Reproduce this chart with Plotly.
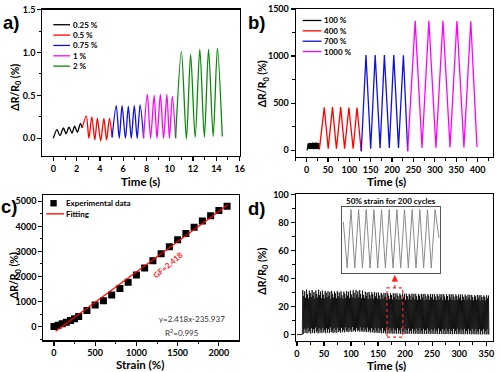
import plotly.graph_objects as go

W, H = 500, 372
def px(x): return x / W
def py(y): return 1 - y / H

FONT = "Lato"

# ---------------- Panel a data ----------------
a_names = ["0.25 %", "0.5 %", "0.75 %", "1 %", "2 %"]
a_colors = ["#000000", "#ff0000", "#1010e0", "#ff00ff", "#0a8a0a"]
a_t_025 = [0.0, 0.31, 0.56, 0.87, 1.09, 1.34, 1.60, 1.82, 2.07, 2.32, 2.48]
a_v_025 = [0.0, 0.10, 0.03, 0.12, 0.05, 0.13, 0.06, 0.14, 0.07, 0.17, 0.12]
a_t_05 = [2.48, 2.83, 3.05, 3.30, 3.56, 3.78, 4.06, 4.34, 4.57, 4.82, 5.05]
a_v_05 = [0.12, 0.26, 0.0, 0.25, -0.02, 0.23, -0.03, 0.23, -0.02, 0.23, 0.01]
a_t_075 = [5.05, 5.40, 5.66, 5.90, 6.19, 6.44, 6.69, 6.95, 7.20, 7.45, 7.75]
a_v_075 = [0.01, 0.38, 0.0, 0.38, 0.0, 0.37, 0.0, 0.38, 0.0, 0.39, 0.0]
a_t_1 = [7.75, 8.07, 8.35, 8.66, 8.90, 9.19, 9.47, 9.75, 9.97, 10.22, 10.50]
a_v_1 = [0.0, 0.51, 0.0, 0.50, 0.0, 0.51, 0.0, 0.51, 0.0, 0.49, 0.0]
a_t_2 = [10.50, 11.0, 11.43, 11.79, 12.18, 12.58, 12.97, 13.33, 13.73, 14.09, 14.51]
a_v_2 = [0.0, 1.01, -0.01, 0.98, 0.01, 1.04, 0.01, 1.04, 0.02, 1.05, 0.02]
a_series = [(a_t_025, a_v_025), (a_t_05, a_v_05), (a_t_075, a_v_075), (a_t_1, a_v_1), (a_t_2, a_v_2)]

# ---------------- Panel b data ----------------
b_names = ["100 %", "400 %", "700 %", "1000 %"]
b_colors = ["#000000", "#ff0000", "#1010e0", "#ff00ff"]
b_t_100 = [1.5, 4, 5.5, 7.5, 9, 11, 12.5, 14.5, 16, 18, 19.5, 21.5, 23, 25, 26.5, 28.5, 30]
b_v_100 = [0, 75, 15, 80, 12, 78, 15, 82, 12, 80, 15, 82, 12, 80, 15, 78, 10]
b_t_400 = [30, 41.5, 50.7, 60.7, 69.9, 79.9, 89, 99, 109, 118, 128]
b_v_400 = [10, 455, 17, 458, 17, 458, 17, 455, 17, 455, -10]
b_t_700 = [128, 139, 150, 160.5, 172, 182, 193.5, 204, 215, 226.5, 236.5]
b_v_700 = [-10, 1012, 17, 1012, 22, 1010, 25, 1010, 25, 1008, -10]
b_t_1000 = [236.5, 254, 270, 286, 302.5, 319, 335.5, 351.6, 368, 384, 398.5]
b_v_1000 = [-10, 1374, 25, 1374, 28, 1374, 30, 1372, 30, 1370, 35]
b_series = [(b_t_100, b_v_100), (b_t_400, b_v_400), (b_t_700, b_v_700), (b_t_1000, b_v_1000)]

# ---------------- Panel c data ----------------
c_strain = [0, 50, 100, 150, 200, 250, 300, 400, 500, 600, 700, 800, 900, 1000,
            1100, 1200, 1300, 1400, 1500, 1600, 1700, 1800, 1900, 2000, 2100]
c_resp = [10, 50, 110, 170, 240, 310, 400, 640, 866, 1030, 1260, 1522, 1772, 2060,
          2336, 2625, 2913, 3190, 3465, 3714, 3963, 4213, 4423, 4633, 4800]
c_fit_x = [20, 2110]
c_fit_y = [-188, 4866]

# ---------------- Panel d data ----------------
d_base_t = [0, 10]
d_base_v = [0, 0]
d_peaks = [
    31.8, 27.5, 30.9, 26.2, 32.0, 28.8, 25.9, 31.4, 29.6, 26.8, 31.9, 27.9, 30.4, 25.7, 31.6, 29.1, 26.5, 32.1, 28.2, 30.7,
    26.0, 31.5, 28.6, 25.8, 31.2, 29.9, 26.7, 31.0, 27.7, 30.5, 25.6, 31.3, 28.9, 26.4, 30.8, 29.4, 25.9, 31.1, 27.4, 30.2,
    26.3, 30.9, 28.1, 25.5, 30.7, 29.2, 26.1, 31.2, 27.8, 30.6, 25.9, 31.5, 28.7, 26.6, 31.7, 29.8, 26.2, 31.9, 28.4, 30.9,
    26.5, 31.8, 29.0, 25.9, 31.4, 28.3, 26.0, 30.6, 27.6, 30.1, 25.4, 30.5, 28.2, 25.8, 30.3, 29.0, 25.6, 30.4, 27.3, 29.9,
    25.7, 30.1, 27.9, 25.2, 29.8, 28.6, 25.5, 29.9, 27.0, 29.6, 25.1, 29.7, 27.8, 25.4, 29.5, 28.3, 25.0, 29.6, 26.9, 29.4,
    25.3, 29.5, 27.6, 24.9, 29.3, 28.1, 25.2, 29.4, 26.8, 29.2, 24.8, 29.3, 27.5, 25.1, 29.2, 28.0, 24.9, 29.3, 26.7, 29.1,
    25.0, 29.2, 27.4, 24.8, 29.1, 27.9, 25.1, 29.2, 26.6, 29.0, 24.7, 29.1, 27.3, 25.0, 29.0, 27.8, 24.8, 29.1, 26.5, 28.9,
    24.9, 29.0, 27.2, 24.7, 28.9, 27.7, 25.0, 29.0, 26.4, 28.8, 24.6, 29.0, 27.2, 24.9, 28.9, 27.6, 24.7, 28.9, 26.4, 28.8,
    24.8, 28.9, 27.1, 24.6, 28.7, 27.5, 24.9, 28.8, 26.3, 28.6, 24.5, 28.7, 27.0, 24.8, 28.6, 27.4, 24.6, 28.5, 26.2, 28.4,
    24.6, 28.4, 26.9, 24.4, 28.2, 27.2, 24.7, 28.3, 26.1, 28.1, 24.3, 28.2, 26.8, 24.5, 28.0, 27.0, 24.4, 28.1, 26.0, 27.9,
]
d_troughs = [
    0.3, 4.2, 1.1, 3.5, 0.8, 5.0, 1.4, 2.9, 0.7, 4.6, 1.2, 3.8, 0.9, 5.1, 1.5, 2.7, 0.8, 4.4, 1.3, 3.6,
    1.0, 4.9, 1.6, 3.1, 0.9, 4.5, 1.4, 3.9, 1.1, 5.2, 1.7, 2.8, 1.0, 4.7, 1.5, 3.6, 1.2, 5.0, 1.8, 3.0,
    1.3, 4.8, 1.9, 3.4, 1.5, 5.3, 2.1, 3.0, 1.7, 4.9, 2.2, 3.7, 1.9, 5.4, 2.3, 3.2, 2.0, 4.8, 2.4, 3.5,
    2.1, 5.2, 2.2, 3.3, 1.9, 4.9, 2.0, 3.6, 1.7, 5.0, 1.8, 3.1, 1.5, 4.7, 1.6, 3.4, 1.3, 4.9, 1.4, 2.9,
    1.1, 4.6, 1.2, 3.2, 0.9, 4.8, 1.0, 2.8, 0.8, 4.5, 0.9, 3.3, 0.7, 4.7, 0.8, 2.9, 0.6, 4.4, 0.7, 3.1,
    0.6, 4.5, 0.7, 3.0, 0.5, 4.6, 0.6, 2.7, 0.5, 4.3, 0.6, 3.2, 0.5, 4.5, 0.6, 2.8, 0.5, 4.2, 0.6, 3.0,
    0.5, 4.4, 0.6, 2.9, 0.5, 4.5, 0.5, 2.6, 0.4, 4.2, 0.5, 3.1, 0.4, 4.4, 0.5, 2.7, 0.4, 4.1, 0.5, 2.9,
    0.4, 4.3, 0.5, 2.8, 0.4, 4.4, 0.4, 2.5, 0.4, 4.1, 0.4, 3.0, 0.3, 4.3, 0.4, 2.6, 0.3, 4.0, 0.4, 2.8,
    0.3, 4.2, 0.4, 2.7, 0.3, 4.3, 0.3, 2.4, 0.3, 4.0, 0.3, 2.9, 0.2, 4.2, 0.3, 2.5, 0.2, 3.9, 0.3, 2.7,
    0.2, 4.1, 0.3, 2.6, 0.2, 4.2, 0.2, 2.3, 0.2, 3.9, 0.2, 2.8, 0.1, 4.1, 0.2, 2.4, 0.1, 3.8, 0.2, 0.0,
]
d_start_t = 10
d_half_period = 0.8625  # seconds between a trough and the following peak
d_cycle_vals = [0.0]
for p, tr in zip(d_peaks, d_troughs):
    d_cycle_vals.append(p)
    d_cycle_vals.append(tr)

# inset (zoom of 50% strain cycles)
inset_vals = [24, 1, 30, 1, 30, 1, 30, 1, 30, 1, 30, 1, 30, 1, 30, 1, 30, 1, 30, 1, 30, 1, 30, 1, 30, 16]
inset_title = "50% strain for 200 cycles"

# ---------------- figure ----------------
fig = go.Figure()

for (t, v), name, col in zip(a_series, a_names, a_colors):
    fig.add_trace(go.Scatter(x=t, y=v, mode="lines", name=name, xaxis="x", yaxis="y",
                             line=dict(color=col, width=1.3, shape="spline", smoothing=0.8),
                             showlegend=False))
for (t, v), name, col in zip(b_series, b_names, b_colors):
    fig.add_trace(go.Scatter(x=t, y=v, mode="lines", name=name, xaxis="x2", yaxis="y2",
                             line=dict(color=col, width=1.3), showlegend=False))
fig.add_trace(go.Scatter(x=c_strain, y=c_resp, mode="markers", name="Experimental data",
                         xaxis="x3", yaxis="y3", showlegend=False,
                         marker=dict(symbol="square", size=7, color="black")))
fig.add_trace(go.Scatter(x=c_fit_x, y=c_fit_y, mode="lines", name="Fitting",
                         xaxis="x3", yaxis="y3", showlegend=False,
                         line=dict(color="#ff0000", width=1.2)))
fig.add_trace(go.Scatter(x=d_base_t, y=d_base_v, mode="lines", xaxis="x4", yaxis="y4",
                         showlegend=False, line=dict(color="#222222", width=1)))
fig.add_trace(go.Scatter(x0=d_start_t, dx=d_half_period, y=d_cycle_vals, mode="lines",
                         xaxis="x4", yaxis="y4", showlegend=False,
                         line=dict(color="#000000", width=0.75)))
fig.add_trace(go.Scatter(x0=0, dx=0.5, y=inset_vals, mode="lines", xaxis="x5", yaxis="y5",
                         showlegend=False, line=dict(color="#8a8a8a", width=1)))

tickfont = dict(family=FONT, size=9, color="black", weight="bold")

def axis(domain, rng, dtick, minor_dtick, anchor, tickformat=None):
    d = dict(domain=domain, range=rng, dtick=dtick, tick0=0, anchor=anchor,
             showline=True, linecolor="black", linewidth=1.2, mirror=True,
             ticks="outside", ticklen=4, tickwidth=1.2, tickcolor="black",
             minor=dict(dtick=minor_dtick, ticks="outside", ticklen=2.5, tickwidth=1, tickcolor="black"),
             showgrid=False, zeroline=False, tickfont=tickfont, fixedrange=True)
    if tickformat:
        d["tickformat"] = tickformat
    return d

fig.update_layout(
    width=W, height=H, margin=dict(l=0, r=0, t=0, b=0),
    paper_bgcolor="white", plot_bgcolor="white", showlegend=False, hovermode=False,
    xaxis=axis([px(41), px(241)], [-0.94, 16], 2, 1, "y"),
    yaxis=axis([py(153.3), py(4.7)], [-0.21, 1.5], 0.5, 0.25, "x", ".1f"),
    xaxis2=axis([px(298), px(498)], [-25, 436], 50, 25, "y2"),
    yaxis2=axis([py(154), py(4)], [-70, 1500], 500, 250, "x2"),
    xaxis3=axis([px(42), px(240)], [-128, 2240], 500, 250, "y3"),
    yaxis3=axis([py(340), py(193)], [-551, 5236], 1000, 500, "x3"),
    xaxis4=axis([px(298), px(498)], [-2, 362.5], 50, 25, "y4"),
    yaxis4=axis([py(340.7), py(191.7)], [-4.7, 100.5], 20, 10, "x4"),
    xaxis5=dict(domain=[px(345), px(444.3)], range=[-0.15, 12.65], anchor="y5",
                showline=True, linecolor="#555555", linewidth=1, mirror=True,
                showticklabels=False, ticks="", showgrid=False, zeroline=False),
    yaxis5=dict(domain=[py(271.7), py(204.3)], range=[-1.5, 31.5], anchor="x5",
                showline=True, linecolor="#555555", linewidth=1, mirror=True,
                showticklabels=False, ticks="", showgrid=False, zeroline=False),
)

ann = []
shapes = []
def text(x, y, s, size=12, bold=True, color="black", xanchor="center", angle=0, family=FONT):
    ann.append(dict(x=px(x), y=py(y), xref="paper", yref="paper", text=s, showarrow=False,
                    xanchor=xanchor, yanchor="middle", textangle=angle,
                    font=dict(family=family, size=size, color=color,
                              weight="bold" if bold else "normal")))

# panel labels
for lx, ly, lab in [(9, 18, "a)"), (258, 18, "b)"), (7.5, 204, "c)"), (258, 206, "d)")]:
    text(lx, ly, lab, size=18.5, family="Liberation Sans")

# axis titles
ytitle = "ΔR/R<sub>0</sub> (%)"
text(140, 179, "Time (s)", size=11.5)
text(390, 179, "Time (s)", size=11.5)
text(140, 364, "Strain (%)", size=11.5)
text(390, 365, "Time (s)", size=11.5)
text(14, 83, ytitle, size=10.5, angle=-90)
text(265, 80, ytitle, size=10.5, angle=-90)
text(14, 274, ytitle, size=10.5, angle=-90)
text(265, 270, ytitle, size=10.5, angle=-90)

# legend a
for i, (name, col) in enumerate(zip(a_names, a_colors)):
    yy = 20 + 10.5 * i
    shapes.append(dict(type="line", xref="paper", yref="paper", x0=px(52), x1=px(69),
                       y0=py(yy), y1=py(yy), line=dict(color=col, width=1.3)))
    text(70, yy, name, size=8, xanchor="left")
# legend b
for i, (name, col) in enumerate(zip(b_names, b_colors)):
    yy = 15.7 + 10.5 * i
    shapes.append(dict(type="line", xref="paper", yref="paper", x0=px(305), x1=px(324),
                       y0=py(yy), y1=py(yy), line=dict(color=col, width=1.3)))
    text(325, yy, name, size=8, xanchor="left")
# legend c
shapes.append(dict(type="rect", xref="paper", yref="paper", x0=px(49), x1=px(55.5),
                   y0=py(204.2), y1=py(197.7), fillcolor="black", line=dict(width=0)))
text(63, 201, "Experimental data", size=8, xanchor="left")
shapes.append(dict(type="line", xref="paper", yref="paper", x0=px(45), x1=px(63),
                   y0=py(211.7), y1=py(211.7), line=dict(color="#ff0000", width=1.3)))
text(63, 211.7, "Fitting", size=8, xanchor="left")

# panel c annotations
text(168.3, 263.3, "GF=2.418", size=8, color="#ff2020", angle=-40)
text(192.7, 318, "y=2.418x-235.937", size=8, bold=False, color="#333333")
text(182.7, 331.7, "R<sup>2</sup>=0.995", size=8, bold=False, color="#333333")

# panel d annotations
text(395, 198.5, inset_title, size=8)
shapes.append(dict(type="rect", xref="x4", yref="y4", x0=166.5, x1=195.6, y0=-1.9, y1=33.4,
                   line=dict(color="#ff2020", width=1.2, dash="dot")))
shapes.append(dict(type="line", xref="x4", yref="y4", x0=181, x1=181, y0=33.4, y1=39.5,
                   line=dict(color="#ff2020", width=1.2, dash="dot")))
ann.append(dict(x=181, y=42.6, xref="x4", yref="y4", ax=181, ay=38.5, axref="x4", ayref="y4",
                text="", showarrow=True, arrowhead=2, arrowsize=1, arrowwidth=1.3,
                arrowcolor="#ff2020"))

fig.update_layout(annotations=ann, shapes=shapes)
fig.write_html("out.html", config={"displayModeBar": False, "staticPlot": True},
               post_script="document.body.style.margin='0px';")
